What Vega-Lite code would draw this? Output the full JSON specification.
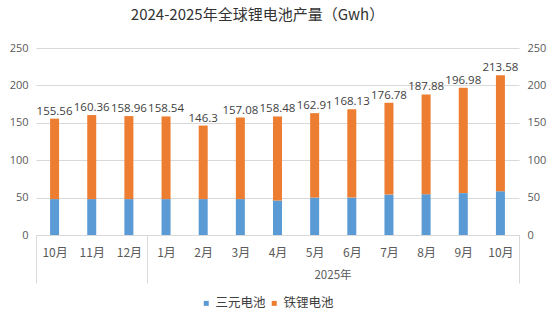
{
  "$schema": "https://vega.github.io/schema/vega-lite/v6.json",
  "width": 483,
  "height": 187,
  "autosize": {"type": "none"},
  "padding": {"left": 36, "top": 48, "right": 37, "bottom": 87},
  "background": "#ffffff",
  "title": {
    "text": "2024-2025年全球锂电池产量（Gwh）",
    "font": "Noto Sans CJK SC",
    "fontSize": 15,
    "fontWeight": "normal",
    "color": "#333333",
    "anchor": "middle",
    "dx": -20,
    "offset": 19
  },
  "data": {
    "values": [
      {"key": "2024-10月", "三元电池": 48, "铁锂电池": 107.56, "total": "155.56"},
      {"key": "2024-11月", "三元电池": 48, "铁锂电池": 112.36, "total": "160.36"},
      {"key": "2024-12月", "三元电池": 48, "铁锂电池": 110.96, "total": "158.96"},
      {"key": "2025-1月", "三元电池": 48, "铁锂电池": 110.54, "total": "158.54"},
      {"key": "2025-2月", "三元电池": 48, "铁锂电池": 98.3, "total": "146.3"},
      {"key": "2025-3月", "三元电池": 48, "铁锂电池": 109.08, "total": "157.08"},
      {"key": "2025-4月", "三元电池": 46, "铁锂电池": 112.48, "total": "158.48"},
      {"key": "2025-5月", "三元电池": 50, "铁锂电池": 112.91, "total": "162.91"},
      {"key": "2025-6月", "三元电池": 50, "铁锂电池": 118.13, "total": "168.13"},
      {"key": "2025-7月", "三元电池": 54, "铁锂电池": 122.78, "total": "176.78"},
      {"key": "2025-8月", "三元电池": 54.5, "铁锂电池": 133.38, "total": "187.88"},
      {"key": "2025-9月", "三元电池": 56, "铁锂电池": 140.98, "total": "196.98"},
      {"key": "2025-10月", "三元电池": 58.5, "铁锂电池": 155.08, "total": "213.58"}
    ]
  },
  "encoding": {
    "x": {
      "field": "key",
      "type": "nominal",
      "sort": null,
      "scale": {"paddingInner": 0, "paddingOuter": 0},
      "axis": {
        "title": "2025年",
        "titleX": 296.5,
        "titleY": 40,
        "titleAlign": "center",
        "titleBaseline": "middle",
        "titleFont": "Noto Sans CJK SC",
        "titleFontSize": 11.5,
        "titleFontWeight": "normal",
        "titleColor": "#595959",
        "labelExpr": "split(datum.value, '-')[1]",
        "labelFont": "Noto Sans CJK SC",
        "labelFontSize": 12,
        "labelColor": "#595959",
        "labelAngle": 0,
        "labelBaseline": "top",
        "labelPadding": -36,
        "domainColor": "#d9d9d9",
        "tickBand": "extent",
        "tickSize": 48,
        "tickColor": {
          "condition": {"test": "datum.extra || datum.value === '2024-12月' || datum.value === '2025-10月'", "value": "#d9d9d9"},
          "value": "transparent"
        },
        "grid": false
      }
    }
  },
  "layer": [
    {
      "transform": [{"fold": ["三元电池", "铁锂电池"], "as": ["type", "val"]}],
      "mark": {"type": "bar", "size": 9},
      "encoding": {
        "y": {
          "field": "val",
          "type": "quantitative",
          "stack": "zero",
          "scale": {"domain": [0, 250], "nice": false},
          "axis": {
            "orient": "left",
            "title": null,
            "values": [0, 50, 100, 150, 200, 250],
            "domain": false,
            "ticks": false,
            "labelPadding": 8,
            "labelFont": "Open Sans",
            "labelFontSize": 11,
            "labelColor": "#595959",
            "gridColor": "#d9d9d9",
            "grid": true
          }
        },
        "color": {
          "field": "type",
          "type": "nominal",
          "scale": {"domain": ["三元电池", "铁锂电池"], "range": ["#5B9BD5", "#ED7D31"]},
          "legend": {
            "title": null,
            "orient": "none",
            "direction": "horizontal",
            "legendX": 164,
            "legendY": 249,
            "symbolType": "square",
            "symbolSize": 25,
            "symbolStrokeWidth": 0,
            "labelFont": "Noto Sans CJK SC",
            "labelFontSize": 12.5,
            "labelColor": "#404040",
            "labelOffset": 3,
            "columnPadding": 2
          }
        },
        "order": {"field": "type", "sort": "ascending"}
      }
    },
    {
      "mark": {"type": "text", "baseline": "bottom", "dy": -2, "font": "Open Sans", "fontSize": 11.5, "color": "#404040"},
      "encoding": {
        "y": {
          "field": "total",
          "type": "quantitative",
          "axis": {
            "orient": "right",
            "title": null,
            "values": [0, 50, 100, 150, 200, 250],
            "domain": false,
            "ticks": false,
            "grid": false,
            "labelPadding": 8,
            "labelFont": "Open Sans",
            "labelFontSize": 11,
            "labelColor": "#595959"
          }
        },
        "text": {"field": "total", "type": "nominal"}
      }
    }
  ],
  "resolve": {"axis": {"y": "independent"}},
  "config": {"view": {"stroke": null}}
}
